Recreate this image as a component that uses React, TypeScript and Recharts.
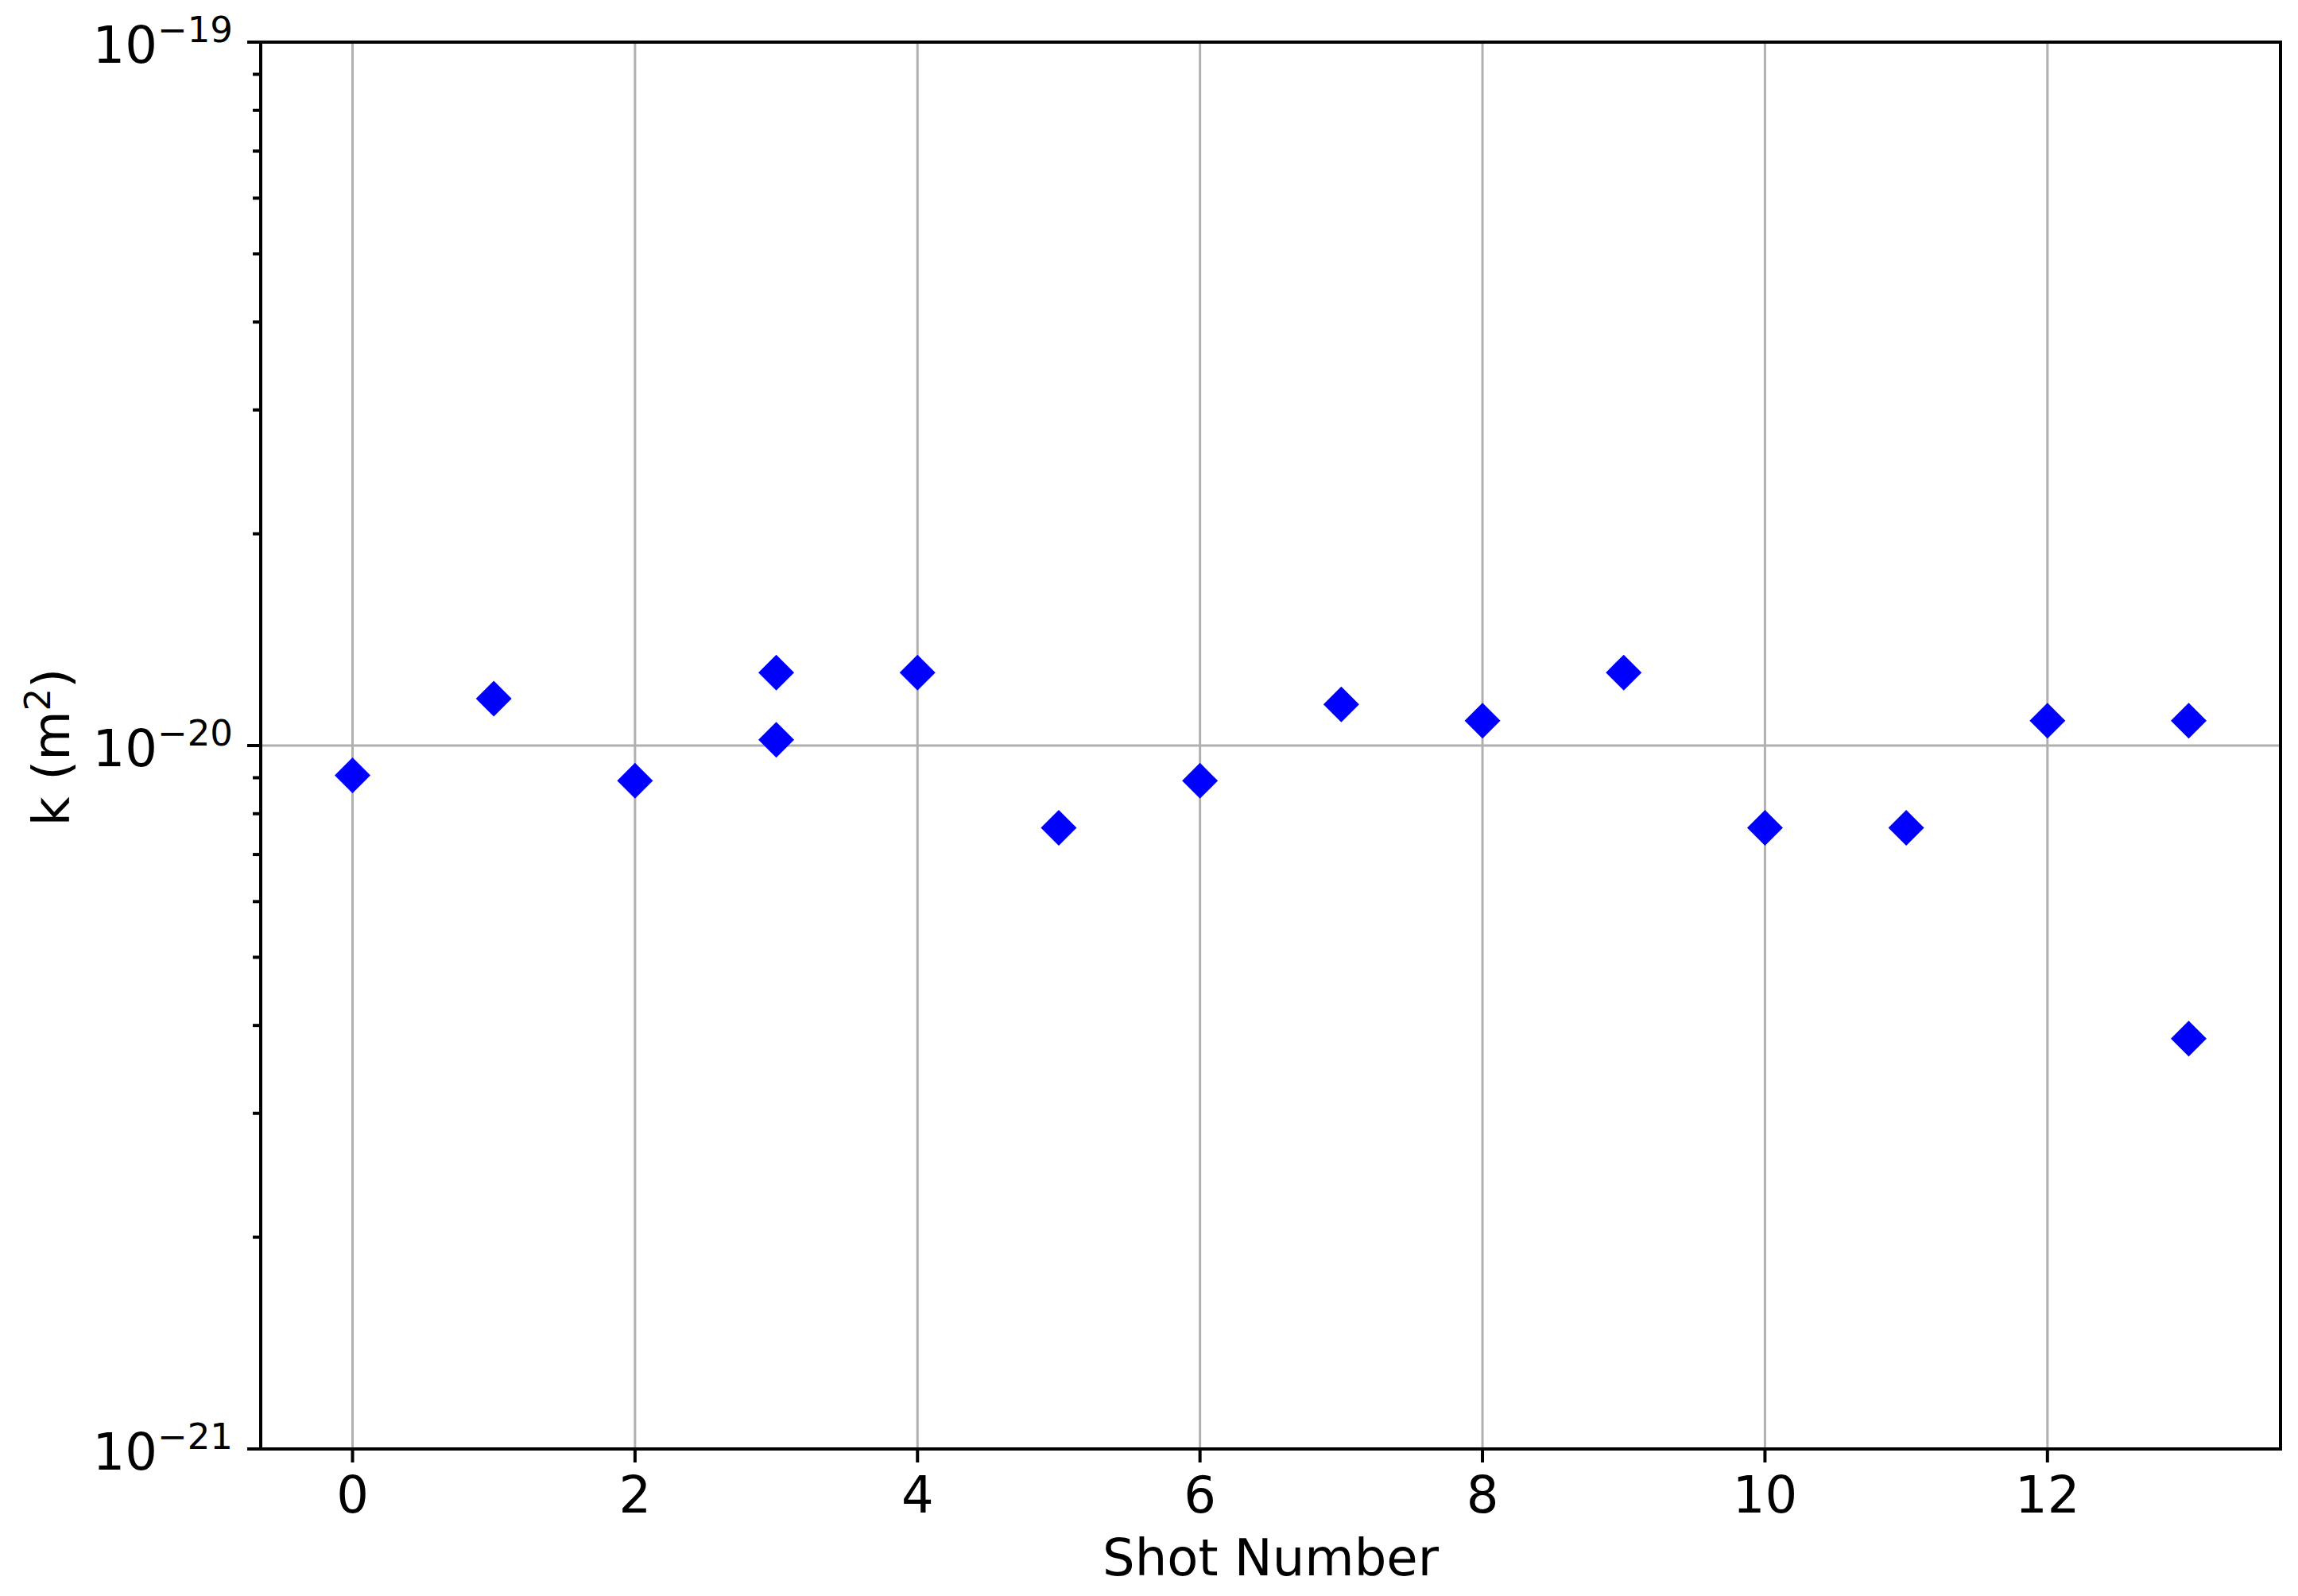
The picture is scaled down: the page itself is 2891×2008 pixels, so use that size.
import React from "react";
import {
  ScatterChart,
  Scatter,
  XAxis,
  YAxis,
  CartesianGrid,
  ReferenceArea,
} from "recharts";

// ---- data ----
const shots = [0, 1, 2, 3, 3, 4, 5, 6, 7, 8, 9, 10, 11, 12, 13, 13];
const kValues = [
  9.07e-21, 1.166e-20, 8.91e-21, 1.27e-20, 1.019e-20, 1.27e-20, 7.64e-21, 8.91e-21,
  1.144e-20, 1.085e-20, 1.27e-20, 7.64e-21, 7.64e-21, 1.085e-20, 1.085e-20, 3.83e-21,
];
const xTicks = [0, 2, 4, 6, 8, 10, 12];
const yMajorExponents = [-21, -20, -19];
const yMinorMultipliers = [2, 3, 4, 5, 6, 7, 8, 9];

const xDomain = [-0.65, 13.65];
const yDomain = [1e-21, 1e-19];

const data = shots.map((s, i) => ({ shot: s, k: kValues[i] }));

const yTicks: number[] = [];
yMajorExponents.forEach((e, idx) => {
  yTicks.push(Math.pow(10, e));
  if (idx < yMajorExponents.length - 1) {
    yMinorMultipliers.forEach((m) => yTicks.push(m * Math.pow(10, e)));
  }
});

const FONT = "DejaVu Sans, sans-serif";
const BLUE = "#0000ff";

const Diamond = (props: any) => {
  const { cx, cy } = props;
  if (cx == null || cy == null) return null;
  const r = 22.5;
  return (
    <polygon
      points={`${cx},${cy - r} ${cx + r},${cy} ${cx},${cy + r} ${cx - r},${cy}`}
      fill={BLUE}
    />
  );
};

const YTick = (props: any) => {
  const { x, y, payload } = props;
  const v = payload.value;
  const lg = Math.log10(v);
  const major = Math.abs(lg - Math.round(lg)) < 1e-6;
  if (!major) {
    return <line x1={x - 10} x2={x} y1={y} y2={y} stroke="#000" strokeWidth={4} />;
  }
  const exp = Math.round(lg);
  const expStr = (exp < 0 ? "\u2212" : "") + Math.abs(exp);
  return (
    <g>
      <line x1={x - 17} x2={x} y1={y} y2={y} stroke="#000" strokeWidth={4} />
      <text x={x - 35} y={y + 26} textAnchor="end" fontFamily={FONT} fontSize={64} fill="#000">
        <tspan>10</tspan>
        <tspan dy={-26} fontSize={45}>
          {expStr}
        </tspan>
      </text>
    </g>
  );
};

const XTick = (props: any) => {
  const { x, y, payload } = props;
  return (
    <g>
      <line x1={x} x2={x} y1={y} y2={y + 17} stroke="#000" strokeWidth={4} />
      <text x={x} y={y + 80} textAnchor="middle" fontFamily={FONT} fontSize={64} fill="#000">
        {payload.value}
      </text>
    </g>
  );
};

const YLabel = (props: any) => {
  const vb = props.viewBox || {};
  const x = (vb.x || 0) + 87;
  const y = (vb.y || 0) + (vb.height || 0) / 2 + 2;
  return (
    <text
      x={x}
      y={y}
      transform={`rotate(-90, ${x}, ${y})`}
      textAnchor="middle"
      fontFamily={FONT}
      fontSize={64}
      fill="#000"
    >
      <tspan>k (m</tspan>
      <tspan dy={-24} fontSize={45}>
        2
      </tspan>
      <tspan dy={24}>)</tspan>
    </text>
  );
};

const XLabel = (props: any) => {
  const vb = props.viewBox || {};
  const x = (vb.x || 0) + (vb.width || 0) / 2;
  const y = (vb.y || 0) + 159;
  return (
    <text x={x} y={y} textAnchor="middle" fontFamily={FONT} fontSize={64} fill="#000">
      Shot Number
    </text>
  );
};

export default function App() {
  return (
    <div style={{ position: "absolute", left: 0, top: 0, background: "#fff" }}>
      <ScatterChart
        width={2891}
        height={2008}
        margin={{ top: 53, right: 22, left: 0, bottom: 0 }}
      >
        <CartesianGrid
          stroke="#b0b0b0"
          strokeWidth={3}
          vertical={true}
          horizontal={true}
          horizontalValues={[1e-20]}
        />
        <XAxis
          type="number"
          dataKey="shot"
          domain={xDomain}
          ticks={xTicks}
          interval={0}
          allowDataOverflow
          height={185}
          tickSize={0}
          tickMargin={0}
          tickLine={false}
          axisLine={{ stroke: "#000", strokeWidth: 4 }}
          tick={<XTick />}
          label={<XLabel />}
        />
        <YAxis
          type="number"
          dataKey="k"
          scale="log"
          domain={yDomain}
          ticks={yTicks}
          interval={0}
          allowDataOverflow
          width={328}
          tickSize={0}
          tickMargin={0}
          tickLine={false}
          axisLine={{ stroke: "#000", strokeWidth: 4 }}
          tick={<YTick />}
          label={<YLabel />}
        />
        <ReferenceArea
          x1={xDomain[0]}
          x2={xDomain[1]}
          y1={yDomain[0]}
          y2={yDomain[1]}
          fill="none"
          fillOpacity={0}
          stroke="#000"
          strokeWidth={4}
          ifOverflow="visible"
        />
        <Scatter data={data} fill={BLUE} shape={<Diamond />} isAnimationActive={false} />
      </ScatterChart>
    </div>
  );
}
